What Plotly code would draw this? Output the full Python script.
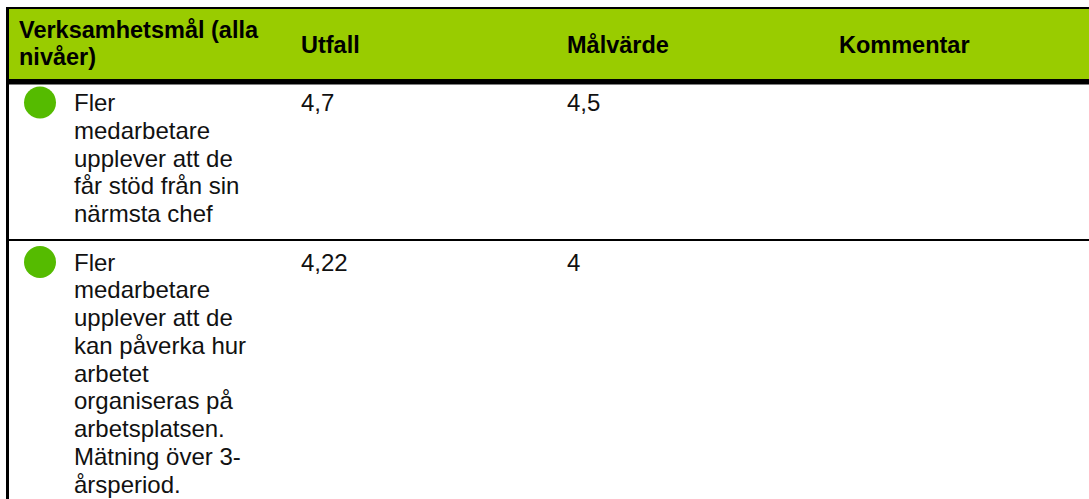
import plotly.graph_objects as go

# ---- data ----
header_labels = ["Verksamhetsmål (alla nivåer)", "Utfall", "Målvärde", "Kommentar"]
header_first_col_lines = ["Verksamhetsmål (alla", "nivåer)"]
goal_lines = [
    ["Fler", "medarbetare", "upplever att de", "får stöd från sin", "närmsta chef"],
    ["Fler", "medarbetare", "upplever att de", "kan påverka hur", "arbetet",
     "organiseras på", "arbetsplatsen.", "Mätning över 3-", "årsperiod."],
]
outcome = ["4,7", "4,22"]
target = ["4,5", "4"]
comment = ["", ""]
status = ["green", "green"]

# ---- layout constants ----
W, H = 1089, 499
FS = 24
HFS = 23.5
LH = 27.75
HLH = 27
FONT = "Liberation Sans, Arial, sans-serif"
HEADER_GREEN = "#99CC00"
STATUS_COLORS = {"green": "#55BB00"}
col_x = [19, 301, 567, 839]
goal_text_x = 74
left = 7
top = 7
header_top, header_bot = 9, 79
bar_bot = 84.5
sep_w = 2
pad_total = 18.75
first_base_off = 29.5
circle_off = 21


def ypt(baseline, fs):
    # scatter text 'middle' puts baseline 0.25*fontsize below the point
    return baseline - 0.25 * fs


fig = go.Figure()
shapes = []

# frame / header
shapes.append(dict(type="rect", x0=left, x1=W + 5, y0=top, y1=header_top,
                   fillcolor="black", line_width=0, layer="above"))
shapes.append(dict(type="rect", x0=left, x1=W + 5, y0=header_top, y1=header_bot,
                   fillcolor=HEADER_GREEN, line_width=0, layer="below"))
shapes.append(dict(type="rect", x0=left, x1=W + 5, y0=header_bot, y1=bar_bot,
                   fillcolor="black", line_width=0, layer="above"))
shapes.append(dict(type="rect", x0=left - 1, x1=left + 2, y0=top, y1=H + 5,
                   fillcolor="black", line_width=0, layer="above"))

# header texts
hc = (header_top + header_bot) / 2
single_base = hc + 0.37 * HFS
hx, hy, ht = [], [], []
n = len(header_first_col_lines)
for i, t in enumerate(header_first_col_lines):
    hx.append(col_x[0])
    hy.append(ypt(single_base - 1 + (i - (n - 1) / 2) * HLH, HFS))
    ht.append(t)
for j, lab in enumerate(header_labels[1:], start=1):
    hx.append(col_x[j])
    hy.append(ypt(single_base, HFS))
    ht.append(lab)
fig.add_trace(go.Scatter(x=hx, y=hy, text=ht, mode="text", textposition="middle right",
                         textfont=dict(size=HFS, family=FONT, color="black", weight="bold"),
                         hoverinfo="skip", showlegend=False, cliponaxis=False))

# body rows
row_top = bar_bot - 3  # content box starts inside the thick header border
tx, ty, tt = [], [], []
mx, my, mc = [], [], []
for r, lines in enumerate(goal_lines):
    base0 = row_top + first_base_off
    for k, line in enumerate(lines):
        tx.append(goal_text_x)
        ty.append(ypt(base0 + k * LH, FS))
        tt.append(line)
    for j, val in zip([1, 2, 3], [outcome[r], target[r], comment[r]]):
        if val:
            tx.append(col_x[j])
            ty.append(ypt(base0, FS))
            tt.append(val)
    mx.append(40)
    my.append(row_top + circle_off)
    mc.append(STATUS_COLORS[status[r]])
    row_bot = row_top + len(lines) * LH + pad_total
    if r < len(goal_lines) - 1:
        shapes.append(dict(type="rect", x0=left, x1=W + 5, y0=row_bot, y1=row_bot + sep_w,
                           fillcolor="black", line_width=0, layer="above"))
    row_top = row_bot + sep_w

fig.add_trace(go.Scatter(x=mx, y=my, mode="markers",
                         marker=dict(size=32, color=mc, line=dict(width=0)),
                         hoverinfo="skip", showlegend=False, cliponaxis=False))
fig.add_trace(go.Scatter(x=tx, y=ty, text=tt, mode="text", textposition="middle right",
                         textfont=dict(size=FS, family=FONT, color="#111111"),
                         hoverinfo="skip", showlegend=False, cliponaxis=False))

fig.update_layout(
    width=W, height=H, autosize=False,
    margin=dict(l=0, r=0, t=0, b=0),
    paper_bgcolor="white", plot_bgcolor="white",
    shapes=shapes,
    xaxis=dict(range=[0, W], visible=False, fixedrange=True),
    yaxis=dict(range=[H, 0], visible=False, fixedrange=True),
)

fig.write_html("out.html", config={"displayModeBar": False},
               post_script="document.body.style.margin='0';document.body.style.overflow='hidden';")
